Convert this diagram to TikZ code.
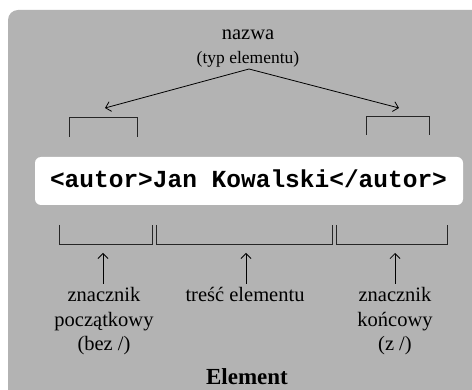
\documentclass[tikz,border=0pt]{standalone}
\usepackage{fontspec}
\setmainfont{Liberation Serif}
\setmonofont{Liberation Mono}
\usetikzlibrary{
  arrows.meta,
  positioning
}

\definecolor{panelgray}{RGB}{179,179,179}

\begin{document}
\begin{tikzpicture}[
  x=1pt,
  y=-1pt,
  >={Straight Barb[length=5pt,width=10pt]},
  panel/.style={fill=panelgray, rounded corners=10pt},
  codefill/.style={fill=white, rounded corners=6pt},
  bracket/.style={line width=0.8pt, black!85},
  pointer/.style={line width=0.8pt, ->},
  label/.style={font=\fontsize{20.5}{24.6}\selectfont, align=center,
                inner sep=0pt},
  small/.style={font=\fontsize{17.5}{21}\selectfont, inner sep=0pt},
  title/.style={font=\fontsize{23}{27}\selectfont\bfseries, inner sep=0pt}
]

  \useasboundingbox (0,0) rectangle (472,390);

  % Gray background panel, running off the right and bottom edges.
  \fill[panel] (8,10) rectangle (490,410);

  % White strip holding the XML element.
  \fill[codefill] (35,157) rectangle (463,205);
  \node[font=\fontsize{24.5}{28}\selectfont\ttfamily\bfseries,
        anchor=base] (code) at (248.5,188)
    {<autor>Jan Kowalski</autor>};

  % Name of the element, pointing at both tags.
  \node[label, anchor=base] (nazwa) at (248,40) {nazwa};
  \node[small, anchor=base] (typ) at (248,64) {(typ elementu)};
  \coordinate (apex) at (249,69);
  \coordinate (tagL) at (105,108);
  \coordinate (tagR) at (399,108);
  \draw[pointer] (apex) -- (tagL);
  \draw[pointer] (apex) -- (tagR);

  % Brackets above the start and end tag.
  \draw[bracket] (69,137) |- (137,117) -- (137,137);
  \draw[bracket] (366,135) |- (429,116) -- (429,135);

  % Brackets below the three parts of the element.
  \draw[bracket] (59,225) |- (152,244) -- (152,225);
  \draw[bracket] (156,225) |- (332,244) -- (332,225);
  \draw[bracket] (336,225) |- (447,244) -- (447,225);

  % Descriptions of the parts.
  \node[label, anchor=north] (start) at (104,287)
    {znacznik\\początkowy\\(bez /)};
  \node[label, anchor=north] (content) at (245,287)
    {treść elementu};
  \node[label, anchor=north] (end) at (395,287)
    {znacznik\\końcowy\\(z /)};

  \coordinate (partA) at (103,253);
  \coordinate (partB) at (246,253);
  \coordinate (partC) at (395,253);
  \draw[pointer] ([yshift=3pt]start.north -| partA) -- (partA);
  \draw[pointer] ([yshift=3pt]content.north -| partB) -- (partB);
  \draw[pointer] ([yshift=3pt]end.north -| partC) -- (partC);

  \node[title, anchor=base] (element) at (247,385) {Element};

\end{tikzpicture}
\end{document}
